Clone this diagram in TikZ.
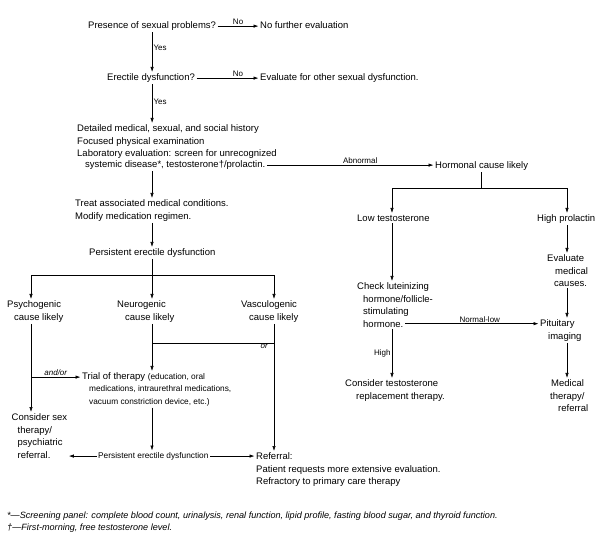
\documentclass[tikz,border=0pt]{standalone}
\usepackage{fontspec}
\setmainfont{Liberation Sans}
\usetikzlibrary{arrows.meta}
\newcommand{\smlf}{\fontsize{8.3}{12.5}\selectfont}
\begin{document}
\begin{tikzpicture}[x=1pt,y=-1pt,
  every node/.style={inner sep=1.5pt},
  txt/.style={anchor=north west, yshift=5pt, align=left, font=\fontsize{9.5}{12.5}\selectfont},
  sml/.style={anchor=north west, yshift=4.5pt, align=left, font=\smlf},
  lbl/.style={font=\fontsize{8}{10}\selectfont, inner sep=1.2pt},
  arr/.style={draw, line width=0.6pt, -{Latex[length=5pt,width=3.4pt]}},
  ln/.style={draw, line width=0.6pt},
  fn/.style={anchor=north west, yshift=4.8pt, font=\fontsize{9.1}{11}\selectfont\itshape}
]
\useasboundingbox (0,0) rectangle (600,545);
\fill[white] (0,0) rectangle (600,545);

% columns and levels
\coordinate (cL) at (31,0);
\coordinate (cM) at (152,0);
\coordinate (cR) at (274,0);
\coordinate (cLT) at (392,0);
\coordinate (cHP) at (567,0);
\coordinate (br) at (0,275);
\coordinate (hb) at (0,188);
\coordinate (orl) at (0,343);

% nodes
\node[txt] (p1) at (86.5,25) {Presence of sexual problems?};
\node[txt] (nfe) at (258.5,25) {No further evaluation};
\node[txt] (ed) at (105.5,77) {Erectile dysfunction?};
\node[txt] (eo) at (258.5,77) {Evaluate for other sexual dysfunction.};
\node[txt] (hist) at (75.5,128) {Detailed medical, sexual, and social history\\Focused physical examination\\Laboratory evaluation: screen for unrecognized};
\node[txt] (sys) at (83.5,164) {systemic disease*, testosterone†/prolactin.};
\node[txt] (horm) at (433.5,165) {Hormonal cause likely};
\node[txt] (treat) at (73.5,203) {Treat associated medical conditions.\\Modify medication regimen.};
\node[txt] (ped) at (87.5,252) {Persistent erectile dysfunction};
\node[txt] (psy) at (5.5,304) {Psychogenic\\\hspace*{7pt}cause likely};
\node[txt] (neu) at (115.5,304) {Neurogenic\\\hspace*{8pt}cause likely};
\node[txt] (vas) at (239.5,304) {Vasculogenic\\\hspace*{8pt}cause likely};
\node[txt] (trial) at (80.5,376) {Trial of therapy {\smlf(education, oral}};
\node[sml] (trialb) at (87.5,388.5) {medications, intraurethral medications,\\vacuum constriction device, etc.)};
\node[txt] (sexther) at (10,417) {Consider sex\\\hspace*{6pt}therapy/\\\hspace*{6pt}psychiatric\\\hspace*{6pt}referral.};
\node[sml] (ped2) at (96.5,455) {Persistent erectile dysfunction};
\node[txt] (ref) at (254.5,456) {Referral:\\Patient requests more extensive evaluation.\\Refractory to primary care therapy};
\node[txt] (lowt) at (355.5,218) {Low testosterone};
\node[txt] (hipr) at (535.5,218) {High prolactin};
\node[txt] (chk) at (355.5,286) {Check luteinizing\\\hspace*{6pt}hormone/follicle-\\\hspace*{6pt}stimulating};
\node[txt] (chk4) at (361.5,323.5) {hormone.};
\node[txt] (ctrt) at (343.5,383) {Consider testosterone\\\hspace*{11pt}replacement therapy.};
\node[txt] (evm) at (545.5,258) {Evaluate\\\hspace*{8pt}medical\\\hspace*{7pt}causes.};
\node[txt] (pit) at (538.5,323) {Pituitary\\\hspace*{8pt}imaging};
\node[txt] (medt) at (548.5,383) {\hspace*{1pt}Medical\\therapy/\\\hspace*{8pt}referral};
\node[fn] (fn1) at (5.5,515) {*—Screening panel: complete blood count, urinalysis, renal function, lipid profile, fasting blood sugar, and thyroid function.};
\node[fn] (fn2) at (5.5,527) {†—First-morning, free testosterone level.};

% connectors: top
\draw[arr] (p1.east) -- (p1.east -| nfe.west) node[lbl,midway,above] (no1) {No};
\draw[arr] (p1.south) -- (p1.south |- ed.north) node[lbl,pos=0.4,right] (yes1) {Yes};
\draw[arr] (ed.east) -- (ed.east -| eo.west) node[lbl,pos=0.67,above] (no2) {No};
\draw[arr] (ed.south -| p1.south) -- (hist.north -| p1.south) node[lbl,pos=0.45,right] (yes2) {Yes};
\draw[arr] (sys.east) -- (sys.east -| horm.west) node[lbl,pos=0.56,above] (abn) {Abnormal};
\draw[arr] (sys.south -| cM) -- (treat.north -| cM);
\draw[arr] (treat.south -| cM) -- (ped.north -| cM);

% left branches
\draw[ln] (ped.south -| cM) -- (br -| cM);
\draw[arr] (br -| cM) -- (cM |- neu.north);
\draw[arr] (br -| cM) -| (cL |- psy.north);
\draw[arr] (br -| cM) -| (cR |- vas.north);
\draw[arr] (cL |- psy.south) -- (cL |- sexther.north);
\draw[arr] (trial.west -| cL) -- (trial.west) node[lbl,midway,above] (andor) {\itshape and/or};
\draw[arr] (cM |- neu.south) -- (cM |- trial.north);
\draw[ln] (cM |- orl) -- (cR |- orl) node[lbl,pos=0.92,below] (orlab) {\itshape or};
\draw[arr] (cR |- vas.south) -- (cR |- ref.north);
\draw[arr] (cM |- trialb.south) -- (cM |- ped2.north);
\draw[arr] (ped2.west) -- (ped2.west -| sexther.east);
\draw[arr] (ped2.east) -- (ped2.east -| ref.west);

% right branches
\draw[ln] (horm.south) -- (horm.south |- hb);
\draw[arr] (horm.south |- hb) -| (cLT |- lowt.north);
\draw[arr] (horm.south |- hb) -| (cHP |- hipr.north);
\draw[arr] (cLT |- lowt.south) -- (cLT |- chk.north);
\draw[arr] (cLT |- chk4.south) -- (cLT |- ctrt.north) node[lbl,midway,left] (high) {High};
\draw[arr] (chk4.east) -- (chk4.east -| pit.west) node[lbl,pos=0.56,above] (nl) {Normal-low};
\draw[arr] (cHP |- hipr.south) -- (cHP |- evm.north);
\draw[arr] (cHP |- evm.south) -- (cHP |- pit.north);
\draw[arr] (cHP |- pit.south) -- (cHP |- medt.north);
\end{tikzpicture}
\end{document}
